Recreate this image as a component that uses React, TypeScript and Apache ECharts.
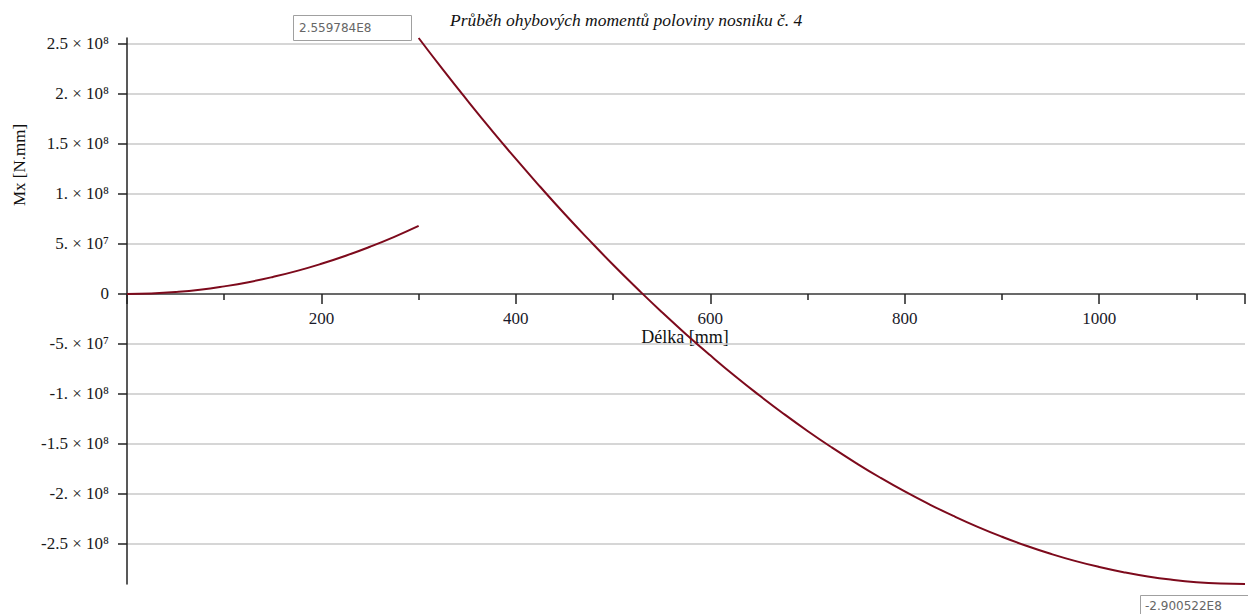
import React, { useEffect, useRef } from "react";
import * as echarts from "echarts";

const chartTitle = "Průběh ohybových momentů poloviny nosniku č. 4";
const xAxisName = "Délka [mm]";
const yAxisName = "Mx [N.mm]";

// Segment 1: 0 – 300 mm
const seg1X = [0, 25, 50, 75, 100, 125, 150, 175, 200, 225, 250, 275, 300];
const seg1M = [0, 0.5e6, 1.9e6, 4.2e6, 7.6e6, 11.8e6, 17.0e6, 23.1e6, 30.2e6, 38.2e6, 47.2e6, 57.1e6, 68.0e6];

// Segment 2: 300 – 1150 mm
const seg2X = [300, 325, 350, 375, 400, 425, 450, 475, 500, 525, 550, 575, 600, 625, 650, 675, 700, 725, 750, 775, 800, 825, 850, 875, 900, 925, 950, 975, 1000, 1025, 1050, 1075, 1100, 1125, 1150];
const seg2M = [255.9784e6, 224.3e6, 193.6e6, 163.8e6, 135.0e6, 107.2e6, 80.2e6, 54.3e6, 29.2e6, 5.2e6, -18.0e6, -40.2e6, -61.4e6, -81.8e6, -101.1e6, -119.5e6, -137.0e6, -153.5e6, -169.1e6, -183.8e6, -197.5e6, -210.2e6, -222.0e6, -232.9e6, -242.8e6, -251.8e6, -259.8e6, -266.9e6, -273.0e6, -278.2e6, -282.5e6, -285.8e6, -288.2e6, -289.6e6, -290.0522e6];

const yTickValues = [-2.5e8, -2e8, -1.5e8, -1e8, -5e7, 0, 5e7, 1e8, 1.5e8, 2e8, 2.5e8];
const yTickLabels = ["-2.5 × 10⁸", "-2. × 10⁸", "-1.5 × 10⁸", "-1. × 10⁸", "-5. × 10⁷", "0", "5. × 10⁷", "1. × 10⁸", "1.5 × 10⁸", "2. × 10⁸", "2.5 × 10⁸"];
const xTickLabels = [200, 400, 600, 800, 1000];

const yMin = -290052200;
const yMax = 255978400;

function fmtE(v: number): string {
  const s = v.toExponential(6);
  return s.replace("e+", "E").replace("e", "E");
}

export default function App() {
  const ref = useRef<HTMLDivElement>(null);
  useEffect(() => {
    if (!ref.current) return;
    const chart = echarts.init(ref.current, undefined, { renderer: "svg" });
    const maxV = Math.max(...seg2M, ...seg1M);
    const minV = Math.min(...seg2M, ...seg1M);
    const serif = "Liberation Serif";
    chart.setOption({
      animation: false,
      backgroundColor: "#ffffff",
      textStyle: { fontFamily: serif },
      grid: { left: 127, right: 3, top: 38, bottom: 30, containLabel: false },
      xAxis: {
        type: "value",
        min: 0,
        max: 1150,
        interval: 200,
        offset: -290,
        axisLine: { onZero: false, lineStyle: { color: "#444", width: 1.5 } },
        axisTick: { show: true, inside: false, length: 10, lineStyle: { color: "#222", width: 1.5 } },
        minorTick: { show: true, splitNumber: 2, length: 6, lineStyle: { color: "#222", width: 1.5 } },
        splitLine: { show: false },
        axisLabel: {
          margin: 16,
          fontFamily: serif,
          fontSize: 17,
          color: "#1a1a2a",
          formatter: (v: number) => (xTickLabels.indexOf(v) >= 0 ? String(v) : ""),
        },
      },
      yAxis: {
        type: "value",
        min: yMin,
        max: yMax,
        axisLine: { show: true, lineStyle: { color: "#222", width: 1.5 } },
        axisTick: { show: true, length: 9, customValues: yTickValues, lineStyle: { color: "#222", width: 1.5 } },
        splitLine: { show: true, lineStyle: { color: "#c8c8c8", width: 1.5 } },
        axisLabel: {
          margin: 8,
          align: "right",
          padding: [3, 10, 0, 0],
          customValues: yTickValues,
          fontFamily: serif,
          fontSize: 17,
          color: "#1a1a1a",
          formatter: (v: number) => {
            const i = yTickValues.indexOf(v);
            return i >= 0 ? yTickLabels[i] : "";
          },
        },
      },
      series: [
        {
          type: "line",
          data: seg1X.map((x, i) => [x, seg1M[i]]),
          smooth: true,
          showSymbol: false,
          lineStyle: { color: "#7d0a1c", width: 2 },
        },
        {
          type: "line",
          data: seg2X.map((x, i) => [x, seg2M[i]]),
          smooth: true,
          showSymbol: false,
          lineStyle: { color: "#7d0a1c", width: 2 },
        },
      ],
      graphic: [
        {
          type: "text",
          left: 450,
          top: 11,
          style: { text: chartTitle, font: `italic 17.5px "${serif}"`, fill: "#111" },
        },
        {
          type: "text",
          x: 685,
          y: 337,
          style: { text: xAxisName, font: `18px "${serif}"`, fill: "#111", align: "center", verticalAlign: "middle" },
        },
        {
          type: "text",
          x: 19,
          y: 165,
          rotation: Math.PI / 2,
          style: { text: yAxisName, font: `17px "${serif}"`, fill: "#111", align: "center", verticalAlign: "middle" },
        },
        {
          type: "rect",
          shape: { x: 293.5, y: 15.5, width: 118, height: 25 },
          style: { fill: "#fff", stroke: "#a0a0a0", lineWidth: 1 },
          z: 100,
        },
        {
          type: "text",
          x: 299,
          y: 28,
          z: 101,
          style: { text: fmtE(maxV), font: '12px "DejaVu Sans"', fill: "#666", verticalAlign: "middle" },
        },
        {
          type: "rect",
          shape: { x: 1140.5, y: 595.5, width: 110, height: 24 },
          style: { fill: "#fff", stroke: "#a0a0a0", lineWidth: 1 },
          z: 100,
        },
        {
          type: "text",
          x: 1145,
          y: 606,
          z: 101,
          style: { text: fmtE(minV), font: '12px "DejaVu Sans"', fill: "#666", verticalAlign: "middle" },
        },
      ],
    });
    return () => chart.dispose();
  }, []);
  return (
    <div
      ref={ref}
      style={{ position: "fixed", left: 0, top: 0, width: 1248, height: 614 }}
    />
  );
}
